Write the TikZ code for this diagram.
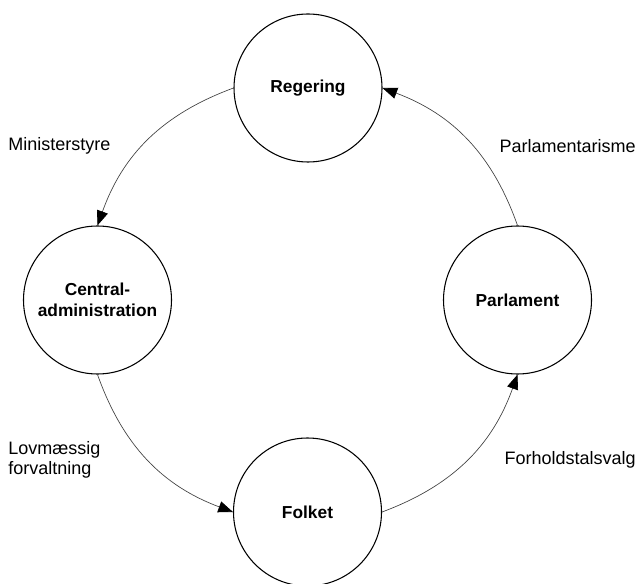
\documentclass[tikz,border=0pt]{standalone}
\usepackage{fontspec}
\setmainfont{Liberation Sans}
\usetikzlibrary{arrows.meta}

\begin{document}
\begin{tikzpicture}[x=0.75pt,y=-0.75pt,
    organ/.style={draw,circle,line width=0.8pt,minimum size=111pt,inner sep=0pt,
      align=center,font=\fontsize{13}{15.75}\selectfont\bfseries},
    relation/.style={draw=black!75,line width=0.5pt,
      -{Triangle[length=11pt,width=8.5pt,color=black]}},
    tag/.style={inner sep=0pt,align=left,font=\fontsize{13.5}{15}\selectfont}]
    \useasboundingbox (0,0) rectangle (638,584);
    % the four circles
    \node[organ] (reg) at (308,88) {Regering};
    \node[organ] (cen) at (97.5,300) {Central-\\administration};
    \node[organ] (par) at (517.5,300) {Parlament};
    \node[organ] (fol) at (307.5,512) {Folket};
    % arcs between them
    \draw[relation] (reg.west) to[bend right=25] (cen.north);
    \draw[relation] (cen.south) to[bend right=25] (fol.west);
    \draw[relation] (fol.east) to[bend right=25] (par.south);
    \draw[relation] (par.north) to[bend right=25] (reg.east);
    % labels
    \node[tag,anchor=west] (ms) at (8,146) {Ministerstyre};
    \node[tag,anchor=east] (pm) at (636,146) {Parlamentarisme};
    \node[tag,anchor=west] (lf) at (8,460) {Lovmæssig\\forvaltning};
    \node[tag,anchor=east] (fv) at (636,460) {Forholdstalsvalg};
\end{tikzpicture}
\end{document}
